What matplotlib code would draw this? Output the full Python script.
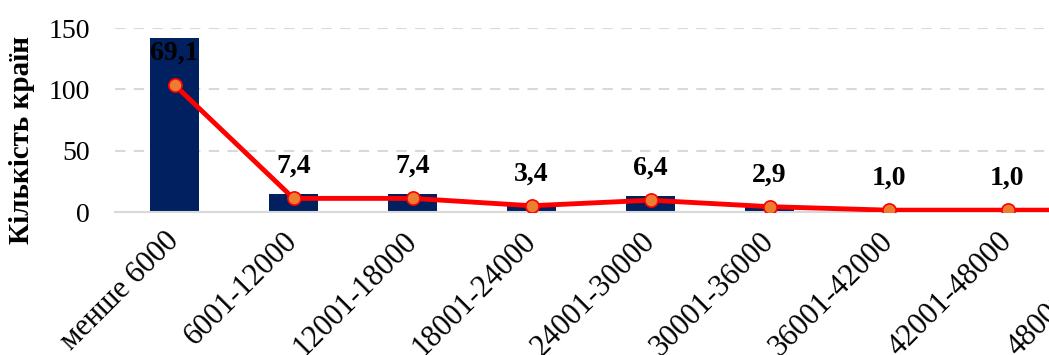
import matplotlib
matplotlib.use('Agg')
import matplotlib.pyplot as plt

# data
categories = ['менше 6000', '6001-12000', '12001-18000', '18001-24000',
              '24001-30000', '30001-36000', '36001-42000', '42001-48000',
              '48001-54000']
countries = [142, 15, 15, 7, 13, 6, 2, 2, 2]
shares = [69.1, 7.4, 7.4, 3.4, 6.4, 2.9, 1.0, 1.0, 1.0]
share_labels = ['69,1', '7,4', '7,4', '3,4', '6,4', '2,9', '1,0', '1,0', '']

plt.rcParams['font.family'] = ['Liberation Serif', 'DejaVu Serif']

fig = plt.figure(figsize=(10.49, 3.55), dpi=100)
# axis runs past the right edge, as in the cropped original
ax = fig.add_axes([115 / 1049, 143 / 355, 1071 / 1049, 184 / 355])

x = list(range(len(categories)))
ax.bar(x, countries, width=0.42, color='#002060', zorder=2)

ax.set_xlim(-0.5, len(categories) - 0.5)
ax.set_ylim(0, 150)
ax.set_yticks([0, 50, 100, 150])
ax.yaxis.grid(True, color='#D9D9D9', linestyle=(0, (5, 4)), linewidth=1.5)
ax.set_axisbelow(True)
for s in ['top', 'right', 'left']:
    ax.spines[s].set_visible(False)
ax.spines['bottom'].set_color('#D9D9D9')
ax.spines['bottom'].set_linewidth(1.5)
ax.tick_params(axis='y', length=0, pad=18, labelsize=20)
ax.tick_params(axis='x', length=0, pad=18)
ax.set_xticks(x)
ax.set_xticklabels(categories, rotation=45, ha='right', va='center',
                   rotation_mode='anchor', fontsize=22)
ax.set_ylabel('Кількість країн', fontsize=21, fontweight='bold')
ax.yaxis.set_label_coords(-0.075, 0.39)

ax2 = ax.twinx()
ax2.set_ylim(0, 100)
ax2.axis('off')
ax2.plot(x, shares, color='#FF0000', linewidth=3.5, marker='o', markersize=9.5,
         markerfacecolor='#ED7D31', markeredgecolor='#FF0000',
         markeredgewidth=1.2, zorder=3)
for xi, v, lab in zip(x, shares, share_labels):
    ax2.annotate(lab, (xi, v), xytext=(0, 23), textcoords='offset points',
                 ha='center', va='center', fontsize=20, fontweight='bold')

fig.savefig('out.png', dpi=100)
